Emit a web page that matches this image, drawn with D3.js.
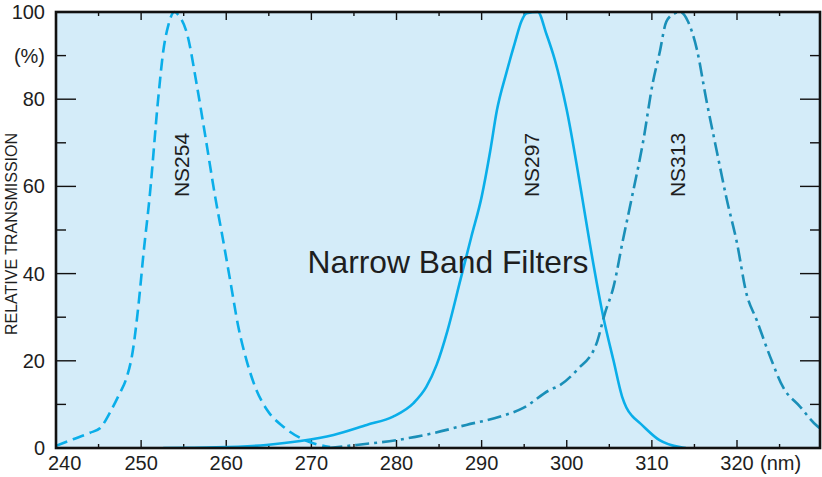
<!DOCTYPE html>
<html>
<head>
<meta charset="utf-8">
<script src="https://cdn.jsdelivr.net/npm/d3@7"></script>
<style>
  html, body { margin: 0; padding: 0; background: #ffffff; }
  svg { display: block; }
  text { font-family: "Liberation Sans", Arial, Helvetica, sans-serif; }
</style>
</head>
<body>
<svg id="chart" width="822" height="477"></svg>
<script>
// ---- data ----
const xTickValues = [240, 250, 260, 270, 280, 290, 300, 310, 320];
const yTickValues = [0, 20, 40, 60, 80, 100];
const xMinorTicks = [245, 255, 265, 275, 285, 295, 305, 315, 325];
const yMinorTicks = [10, 30, 50, 70, 90];
const seriesNames = ["NS254", "NS297", "NS313"];

const ns254Wavelength = [240, 242, 244, 245.2, 246.3, 247.5, 248.2, 249, 249.7, 250.3, 251, 252, 252.6, 253.2, 253.9, 254.5, 255.4, 256.5, 257.5, 258.7, 259.6, 260.5, 261.4, 262.4, 263.4, 264.8, 266.7, 268.7, 270.2, 272.2];
const ns254Transmission = [0.5, 2, 3.5, 4.6, 8, 12.6, 15.6, 22, 33, 45, 57.6, 80, 91, 97, 100, 99, 95, 83.7, 72, 57.6, 48, 38, 28, 20, 14, 8.7, 4.9, 2.3, 1.1, 0.2];

const ns297Wavelength = [252.6, 258.8, 264.7, 268.7, 272.6, 276.5, 279.6, 282, 283.5, 284.7, 286, 287.5, 288.8, 290, 291, 291.8, 292.9, 293.9, 294.7, 295.3, 296.6, 297.6, 298.6, 300, 301.8, 302.7, 304.3, 305.5, 306.5, 307, 307.7, 308.6, 310.9, 313.3, 314];
const ns297Transmission = [0, 0.15, 0.7, 1.6, 3, 5.3, 7.2, 10.3, 14, 19, 27, 38.5, 48.5, 57.6, 68, 77.5, 86, 92.9, 98, 99.7, 100, 95, 89, 77.5, 57.6, 47, 30, 20, 11.8, 9.3, 7.3, 5.7, 1.8, 0.2, 0];

const ns313Wavelength = [272, 275.3, 280, 284.3, 288.2, 292.2, 294.9, 298, 299.2, 301.2, 303.5, 304.5, 305.5, 306.6, 307.6, 309, 310.1, 310.9, 311.7, 312.7, 313.3, 314.2, 315.3, 316.4, 317.6, 318.8, 320, 321.1, 322.3, 323.9, 325.4, 327.4, 329.5, 330.5];
const ns313Transmission = [0, 0.7, 1.8, 3.4, 5.3, 7.2, 9.2, 13.3, 14.4, 17.9, 24, 31, 37, 47.7, 57, 70.6, 83.7, 90.6, 97.8, 99.7, 100, 98, 91.3, 79.8, 68.3, 57, 47, 35.5, 29.4, 20.9, 14, 9.5, 4.9, 3.8];

// ---- layout ----
const svg = d3.select("#chart");
const padL = 56, padR = 820, padT = 12, padB = 448;
const x = d3.scaleLinear().domain([240, 329.75]).range([padL, padR]);
const y = d3.scaleLinear().domain([0, 100]).range([padB, padT]);

const bg = "#d4ecf9";
const cyan = "#0aaee9";
const teal = "#1a8fb8";
const textColor = "#1e1e1e";

svg.append("rect").attr("x", padL).attr("y", padT)
  .attr("width", padR - padL).attr("height", padB - padT)
  .attr("fill", bg);

svg.append("defs").append("clipPath").attr("id", "plotClip")
  .append("rect").attr("x", padL).attr("y", padT - 2)
  .attr("width", padR - padL).attr("height", padB - padT + 2);

// ---- ticks (inward, all four sides) ----
const tickG = svg.append("g").attr("stroke", "#111").attr("stroke-width", 1.4);
function xTick(v, len) {
  tickG.append("line").attr("x1", x(v)).attr("x2", x(v)).attr("y1", padB).attr("y2", padB - len);
  tickG.append("line").attr("x1", x(v)).attr("x2", x(v)).attr("y1", padT).attr("y2", padT + len);
}
function yTick(v, len) {
  tickG.append("line").attr("y1", y(v)).attr("y2", y(v)).attr("x1", padL).attr("x2", padL + len);
  tickG.append("line").attr("y1", y(v)).attr("y2", y(v)).attr("x1", padR).attr("x2", padR - len);
}
xTickValues.forEach(v => xTick(v, 8));
xMinorTicks.forEach(v => xTick(v, 4));
yTickValues.forEach(v => yTick(v, 20));
yMinorTicks.forEach(v => yTick(v, 10));

// ---- curves ----
const line = d3.line().x(d => x(d[0])).y(d => y(d[1])).curve(d3.curveMonotoneX);
const curves = [
  { name: seriesNames[0], pts: d3.zip(ns254Wavelength, ns254Transmission), color: cyan, dash: "12,6" },
  { name: seriesNames[1], pts: d3.zip(ns297Wavelength, ns297Transmission), color: cyan, dash: null },
  { name: seriesNames[2], pts: d3.zip(ns313Wavelength, ns313Transmission), color: teal, dash: "14,5,3,5" }
];
const cg = svg.append("g").attr("clip-path", "url(#plotClip)");
curves.forEach(c => {
  cg.append("path").attr("d", line(c.pts))
    .attr("fill", "none").attr("stroke", c.color)
    .attr("stroke-width", 2.6)
    .attr("stroke-linejoin", "round")
    .attr("stroke-dasharray", c.dash);
});

// ---- frame ----
svg.append("rect").attr("x", padL).attr("y", padT)
  .attr("width", padR - padL).attr("height", padB - padT)
  .attr("fill", "none").attr("stroke", "#111").attr("stroke-width", 2.6);

// ---- tick labels ----
const labG = svg.append("g").attr("fill", textColor).attr("font-size", 20);
xTickValues.forEach(v => {
  const t = labG.append("text").attr("y", 470).text(v);
  if (v === 240) t.attr("x", x(v) - 8).attr("text-anchor", "start");
  else t.attr("x", x(v)).attr("text-anchor", "middle");
});
labG.append("text").attr("x", x(320) + 23).attr("y", 470).attr("text-anchor", "start").text("(nm)");
yTickValues.forEach(v => {
  labG.append("text").attr("x", 45).attr("y", y(v)).attr("dy", "0.35em")
    .attr("text-anchor", "end").text(v);
});
labG.append("text").attr("x", 45).attr("y", y(90)).attr("dy", "0.35em")
  .attr("text-anchor", "end").text("(%)");

// ---- axis title ----
svg.append("text").attr("transform", "translate(17,234) rotate(-90)")
  .attr("text-anchor", "middle").attr("font-size", 16).attr("fill", textColor)
  .text("RELATIVE TRANSMISSION");

// ---- series labels ----
const seriesLabelX = [181.5, 531.5, 677.5];
seriesNames.forEach((n, i) => {
  svg.append("text")
    .attr("transform", `translate(${seriesLabelX[i]},165) rotate(-90)`)
    .attr("text-anchor", "middle").attr("dominant-baseline", "central")
    .attr("font-size", 21).attr("fill", textColor).text(n);
});

// ---- chart title ----
svg.append("text").attr("x", 448).attr("y", 273).attr("text-anchor", "middle")
  .attr("font-size", 31.8).attr("fill", textColor).text("Narrow Band Filters");
</script>
</body>
</html>
